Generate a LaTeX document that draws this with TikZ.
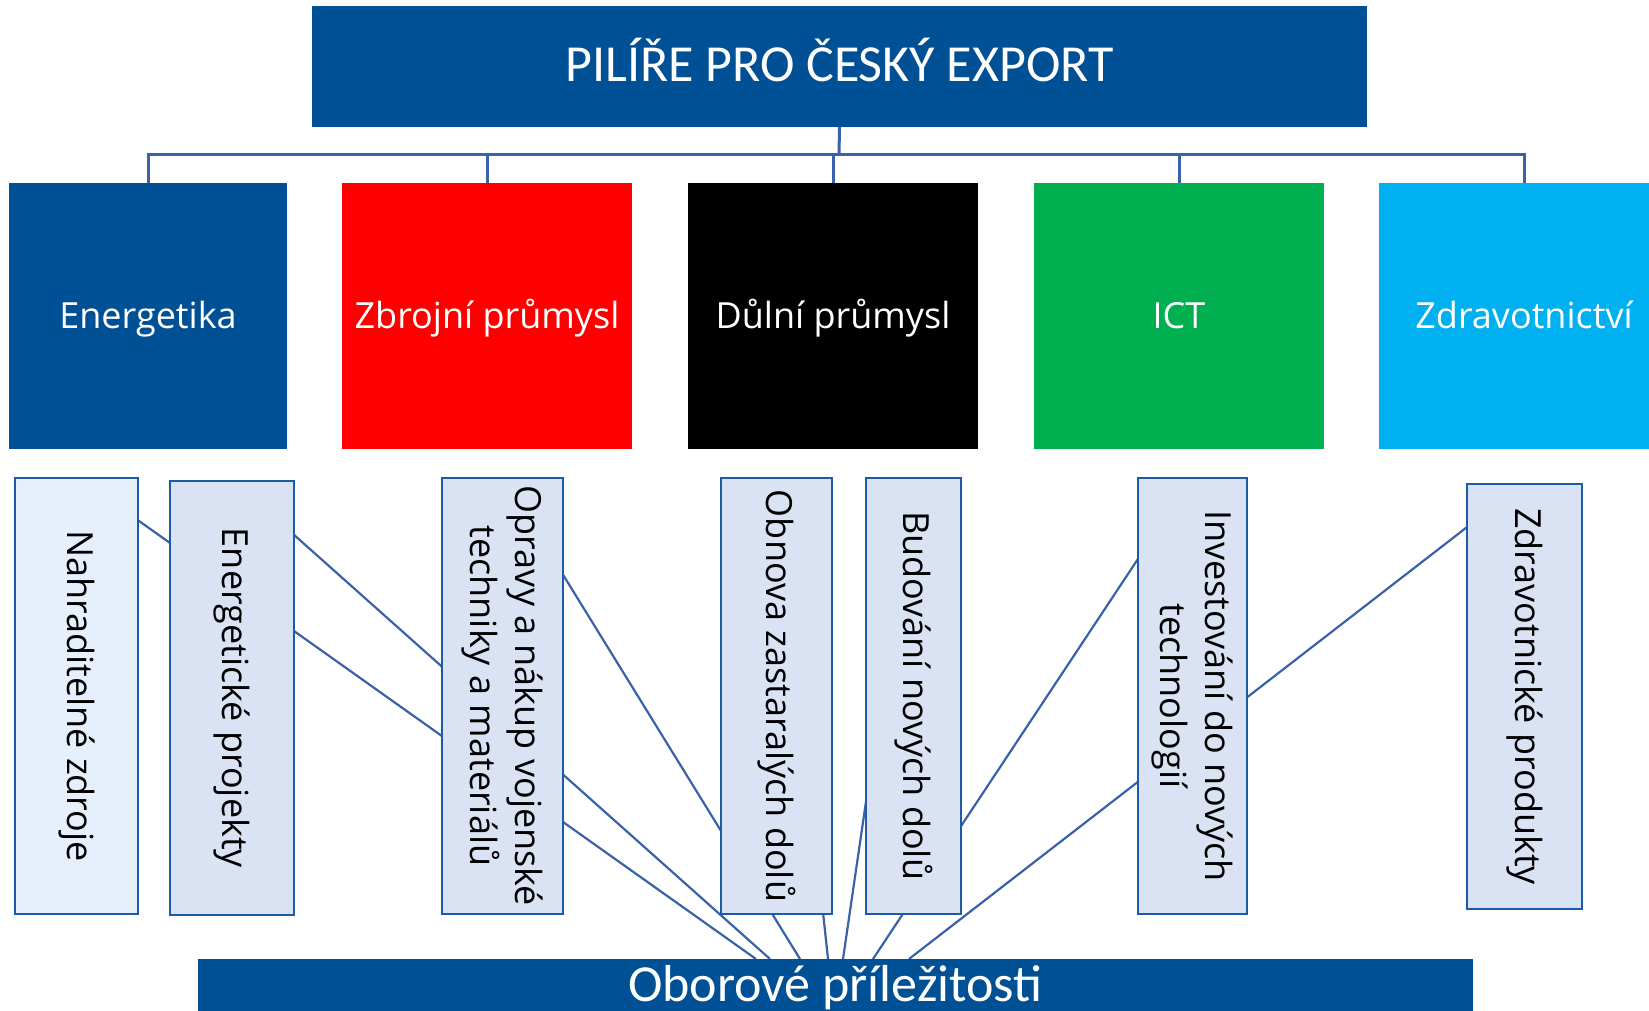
\documentclass[tikz,border=0pt]{standalone}
\usepackage{fontspec}
\setmainfont{Open Sans}
\newfontfamily\calib{Carlito}
\usetikzlibrary{backgrounds}
\definecolor{topblue}{RGB}{0,80,150}
\definecolor{pred}{RGB}{255,0,0}
\definecolor{pgreen}{RGB}{0,176,80}
\definecolor{pcyan}{RGB}{0,176,240}
\definecolor{subfill}{RGB}{218,227,243}
\definecolor{subfilllight}{RGB}{230,240,253}
\definecolor{subborder}{RGB}{28,92,166}
\definecolor{connblue}{RGB}{58,98,168}
\tikzset{
  pillar/.style={draw=none, minimum width=290, minimum height=266, inner sep=0, text=white},
  pillartext/.style={anchor=base, text=white, font=\fontsize{36}{40}\selectfont},
  subbox/.style={draw=subborder, line width=2.8, fill=subfill, minimum height=436, inner sep=0},
  subtext/.style={rotate=-90, align=center, text=black, font=\fontsize{36}{45}\selectfont},
  conn/.style={draw=connblue, line width=2.2, shorten <=3},
  tree/.style={draw=connblue, line width=3},
}
\begin{document}
\begin{tikzpicture}[x=1pt, y=-1pt]
\useasboundingbox (0,0) rectangle (1649,1011);
% title
\node[fill=topblue, minimum width=1055, minimum height=121, inner sep=0] (top) at (839.5,66.5) {};
\node[anchor=base, text=white, font=\calib\fontsize{52}{56}\selectfont] (toptext) at (839.5,82) {PILÍŘE PRO ČESKÝ EXPORT};
% pillars
\node[pillar, fill=topblue, minimum width=278] (c1) at (148,316) {};
\node[pillar, fill=pred] (c2) at (487,316) {};
\node[pillar, fill=black] (c3) at (833,316) {};
\node[pillar, fill=pgreen] (c4) at (1179,316) {};
\node[pillar, fill=pcyan] (c5) at (1524,316) {};
\node[pillartext] (t1) at (148,328) {Energetika};
\node[pillartext] (t2) at (487,328) {Zbrojní průmysl};
\node[pillartext] (t3) at (833,328) {Důlní průmysl};
\node[pillartext] (t4) at (1179,328) {ICT};
\node[pillartext] (t5) at (1524,328) {Zdravotnictví};
% tree connectors
\coordinate (hub) at (839,155);
\draw[tree] (top.south) -- (hub);
\draw[tree] (hub) -| (c1.north);
\draw[tree] (hub) -| (c2.north);
\draw[tree] (hub) -| (c3.north);
\draw[tree] (hub) -| (c4.north);
\draw[tree] (hub) -| (c5.north);
% sub boxes
\node[subbox, fill=subfilllight, minimum width=123] (b1) at (76.5,696) {};
\node[subbox, minimum width=124, minimum height=434] (b2) at (232,698) {};
\node[subbox, minimum width=121] (b3) at (502.5,696) {};
\node[subbox, minimum width=111] (b4) at (776.5,696) {};
\node[subbox, minimum width=95] (b5) at (913.5,696) {};
\node[subbox, minimum width=109] (b6) at (1192.5,696) {};
\node[subbox, minimum width=115, minimum height=425] (b7) at (1524.5,696.5) {};
\node[subtext] (s1) at (b1) {Nahraditelné zdroje};
\node[subtext] (s2) at (b2) {Energetické projekty};
\node[subtext] (s3) at (b3) {Opravy a nákup vojenské\\techniky a materiálů};
\node[subtext] (s4) at (b4) {Obnova zastaralých dolů};
\node[subtext] (s5) at (b5) {Budování nových dolů};
\node[subtext] (s6) at (b6) {Investování do nových\\technologií};
\node[subtext] (s7) at (b7) {Zdravotnické produkty};
% bottom bar
\node[fill=topblue, minimum width=1275, minimum height=80, inner sep=0] (bar) at (835.5,999) {};
\node[anchor=base, text=white, font=\calib\fontsize{52}{56}\selectfont] (bartext) at (835.5,1001) {Oborové příležitosti};
\coordinate (e1) at (756,959);
\coordinate (e2) at (770,959);
\coordinate (e3) at (800,959);
\coordinate (e4) at (828,959);
\coordinate (e5) at (843,959);
\coordinate (e6) at (873,959);
\coordinate (e7) at (909,959);
\begin{scope}[on background layer]
\draw[conn] (b1.north) -- (e1);
\draw[conn] (b2.north) -- (e2);
\draw[conn] (b3.north) -- (e3);
\draw[conn] (b4.north) -- (e4);
\draw[conn] (b5.north) -- (e5);
\draw[conn] (b6.north) -- (e6);
\draw[conn] (b7.north) -- (e7);
\end{scope}
\end{tikzpicture}
\end{document}
